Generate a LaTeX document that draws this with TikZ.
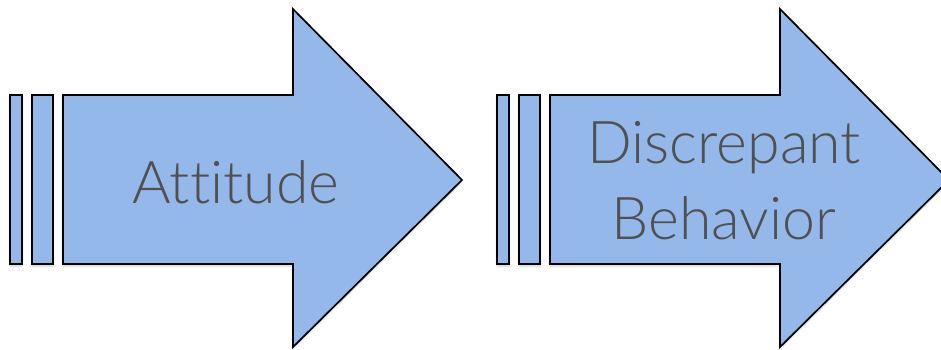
\documentclass[tikz,border=0pt]{standalone}
\usepackage{fontspec}
\setmainfont[Ligatures=NoCommon]{Lato Light}
\usetikzlibrary{shadows.blur}
\definecolor{arrowblue}{HTML}{93B8E9}
\definecolor{labelgray}{HTML}{505050}
\tikzset{
  part/.style={fill=arrowblue, draw=black, line width=1.7pt, line join=miter,
               blur shadow={shadow xshift=0pt, shadow yshift=-2pt, shadow blur steps=6, shadow opacity=18}},
  label/.style={text=labelgray, font=\fontsize{59}{76}\selectfont, align=center, inner sep=0pt}
}
\begin{document}
\begin{tikzpicture}[x=1pt, y=-1pt]
  \useasboundingbox (0,0) rectangle (941,349);
  \clip (0,0) rectangle (941,349);
  % first arrow: two bars and the arrow body
  \path[part] (10,95) rectangle (22,264);
  \path[part] (32,95) rectangle (53,264);
  \path[part] (63,95) -- (293,95) -- (293,9) -- (462,180) -- (293,347) -- (293,264) -- (63,264) -- cycle;
  % second arrow, shifted to the right
  \begin{scope}[xshift=487pt]
    \path[part] (10,95) rectangle (22,264);
    \path[part] (32,95) rectangle (53,264);
    \path[part] (63,95) -- (293,95) -- (293,9) -- (462,180) -- (293,347) -- (293,264) -- (63,264) -- cycle;
  \end{scope}
  \node[label] (attitude) at (236,182) {Attitude};
  \node[label] (behavior) at (724,181) {Discrepant\\Behavior};
\end{tikzpicture}
\end{document}
